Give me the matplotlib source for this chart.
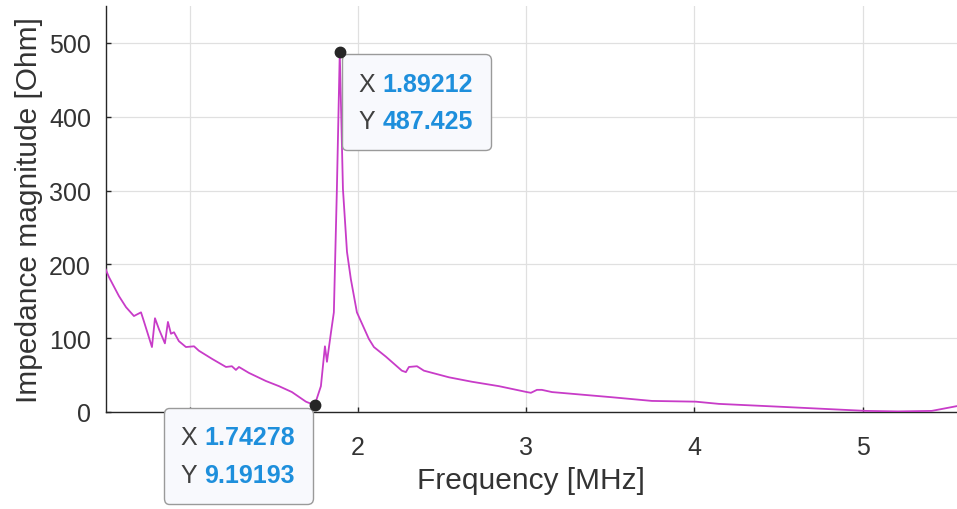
import matplotlib.pyplot as plt
from matplotlib.offsetbox import TextArea, HPacker, VPacker, AnnotationBbox

plt.rcParams['font.family'] = ['Liberation Sans', 'DejaVu Sans']

# Impedance sweep (MHz, Ohm)
freq_mhz = [0.49, 0.52, 0.58, 0.622, 0.669, 0.711, 0.728, 0.776, 0.794, 0.818,
            0.853, 0.871, 0.889, 0.907, 0.936, 0.978, 1.026, 1.055, 1.133, 1.216,
            1.251, 1.275, 1.293, 1.352, 1.453, 1.531, 1.608, 1.691, 1.74278, 1.78,
            1.804, 1.816, 1.84, 1.857, 1.875, 1.89212, 1.911, 1.935, 1.958, 1.994,
            2.065, 2.095, 2.166, 2.261, 2.285, 2.303, 2.351, 2.392, 2.541, 2.677,
            2.838, 3.004, 3.028, 3.064, 3.093, 3.153, 3.509, 3.747, 4.008, 4.145,
            4.519, 5.018, 5.21, 5.41, 5.56]
impedance_ohm = [199, 183, 157, 142, 130, 135, 123, 88, 127, 112,
                 93, 122, 106, 108, 96, 88, 89, 83, 72, 61,
                 62, 57, 61, 53, 42, 35, 27, 14, 9.19193, 35,
                 89, 68, 108, 135, 302, 487.425, 302, 217, 180, 135,
                 99, 88, 75, 56, 54, 61, 62, 56, 47, 41,
                 35, 27, 26, 30, 30, 27, 20, 15, 14, 11,
                 7, 1.5, 0.8, 1.5, 8]

# data tips: (x, y, box offset in points, box alignment)
tips = [(1.89212, 487.425, (14, -14), (0, 1)),
        (1.74278, 9.19193, (-14, -14.5), (1, 1))]

xticks = [1, 2, 3, 4, 5]
# the "1" label sits under the lower data tip
xticklabels = ['', '2', '3', '4', '5']
yticks = [0, 100, 200, 300, 400, 500]

dark = '#262626'
blue = '#1e8fdc'

fig = plt.figure(figsize=(9.57, 5.10), dpi=100)
ax = fig.add_axes([105.5 / 957, 97 / 510, 851.5 / 957, 406 / 510])

ax.plot(freq_mhz, impedance_ohm, color='#c83cc8', lw=1.3, zorder=3)

ax.set_xlim(0.5, 5.56)
ax.set_ylim(0, 550)
ax.set_xticks(xticks, xticklabels)
ax.set_yticks(yticks)
ax.grid(True, color='#e0e0e0', lw=0.9)
ax.set_axisbelow(True)

for side in ['top', 'right']:
    ax.spines[side].set_visible(False)
for side in ['left', 'bottom']:
    ax.spines[side].set_color(dark)
    ax.spines[side].set_linewidth(1.0)

ax.tick_params(axis='both', direction='in', length=3.6, width=1.0,
               colors=dark, labelsize=18, labelcolor='#333333')
ax.tick_params(axis='x', pad=16.5)
ax.tick_params(axis='y', pad=10.5)

ax.set_xlabel('Frequency [MHz]', fontsize=21.5, color='#333333')
ax.set_ylabel('Impedance magnitude [Ohm]', fontsize=21.5, color='#333333')
ax.xaxis.set_label_coords(0.5, -0.133)
ax.yaxis.set_label_coords(-0.0734, 0.5)

for x, y, off, align in tips:
    rows = []
    for name, val in [('X', f'{x:g}'), ('Y', f'{y:g}')]:
        t1 = TextArea(name + ' ', textprops=dict(color='#404040', fontsize=18))
        t2 = TextArea(val, textprops=dict(color=blue, fontsize=18, fontweight='bold'))
        rows.append(HPacker(children=[t1, t2], align='baseline', pad=0, sep=0))
    content = VPacker(children=rows, align='left', pad=0, sep=9.5)
    ab = AnnotationBbox(content, (x, y), xybox=off, xycoords='data',
                        boxcoords='offset points', box_alignment=align,
                        frameon=True, fontsize=10,
                        annotation_clip=False, zorder=5,
                        bboxprops=dict(boxstyle='round,pad=1.25,rounding_size=0.4',
                                       fc='#f8f9fd', ec='#9a9a9a', lw=1.0))
    ax.add_artist(ab)
    ax.plot(x, y, 'o', ms=7.5, color=dark, zorder=6, clip_on=False)

fig.savefig('out.png', dpi=100)
